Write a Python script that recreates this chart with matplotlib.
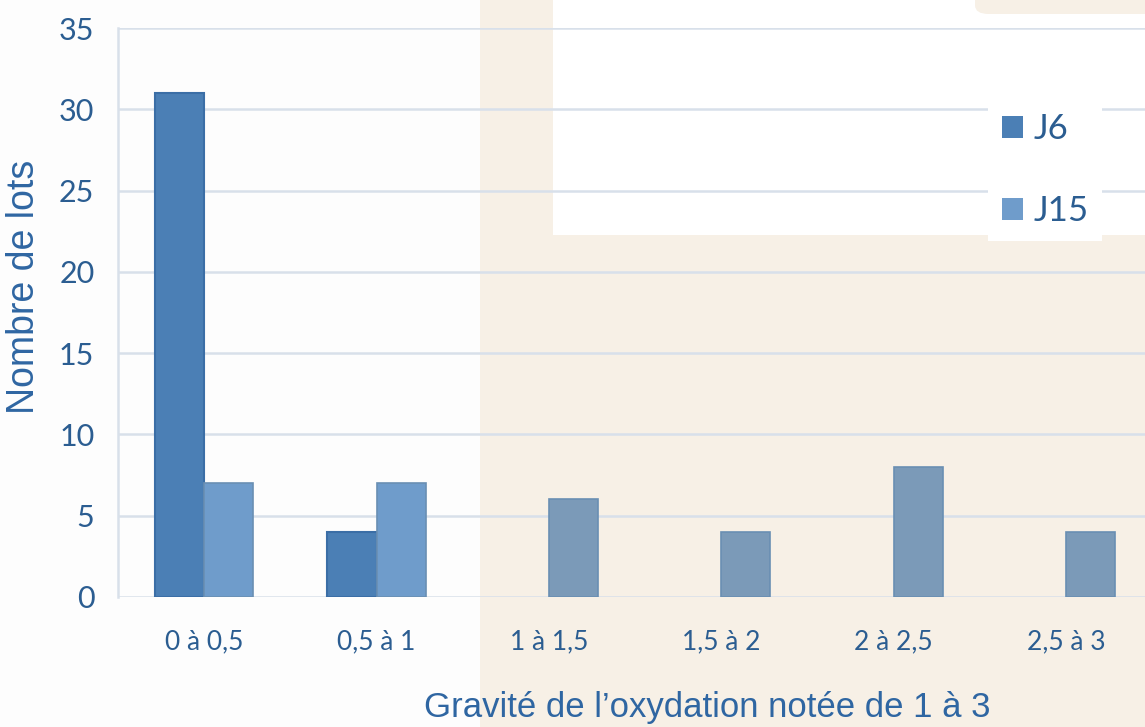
import numpy as np
import matplotlib
matplotlib.use("Agg")
import matplotlib.pyplot as plt
from matplotlib.patches import Rectangle, FancyBboxPatch

# data
categories = ["0 à 0,5", "0,5 à 1", "1 à 1,5", "1,5 à 2", "2 à 2,5", "2,5 à 3"]
j6 = [31, 4, 0, 0, 0, 0]
j15 = [7, 7, 6, 4, 8, 4]
yticks = [0, 5, 10, 15, 20, 25, 30, 35]

W, H = 1145, 727
fig = plt.figure(figsize=(W / 100, H / 100), dpi=100)
fig.patch.set_facecolor("#fdfdfd")

# background of the slide (beige panel + white box top right)
beige = "#f7f0e6"
fig.add_artist(Rectangle((480 / W, 0), 1 - 480 / W, 1, transform=fig.transFigure,
                         facecolor=beige, edgecolor="none", zorder=0))
fig.add_artist(Rectangle((553 / W, 1 - 235 / H), 1 - 553 / W, 235 / H, transform=fig.transFigure,
                         facecolor="white", edgecolor="none", zorder=0))
fig.add_artist(FancyBboxPatch((975 / W, 1 - 14 / H), 200 / W, 40 / H, transform=fig.transFigure,
                              boxstyle="round,pad=0,rounding_size=0.012",
                              facecolor=beige, edgecolor="none", zorder=0))

ax = fig.add_axes([118 / W, 1 - 597 / H, 1 - 118 / W, (597 - 28) / H])
ax.set_facecolor("none")

x = np.arange(len(categories))
w = 0.285
j6_col = "#4b7fb5"
j15_cols = ["#6f9ccb", "#6f9ccb", "#7b9ab8", "#7b9ab8", "#7b9ab8", "#7b9ab8"]

ax.bar(x - w / 2, j6, width=w, color=j6_col, edgecolor="#3b6ea6",
       linewidth=[1.5 if v else 0 for v in j6], label="J6", zorder=3)
ax.bar(x + w / 2, j15, width=w, color=j15_cols, edgecolor="#6a8fb3", linewidth=1.2,
       label="J15", zorder=3)

ax.set_xlim(-0.5, (W - 205) / 172.2)
ax.set_ylim(0, 35)
ax.set_yticks(yticks)
ax.grid(axis="y", color="#d8e0ea", linewidth=1.8, zorder=1)
ax.set_axisbelow(True)
for s in ["top", "right", "bottom"]:
    ax.spines[s].set_visible(False)
ax.spines["left"].set_color("#d8e0ea")
ax.spines["left"].set_linewidth(1.8)

txt = "#2b5d91"
ax.set_xticks(x)
ax.set_xticklabels(categories)
ax.tick_params(axis="both", length=0, labelcolor=txt)
ax.tick_params(axis="x", pad=23, labelsize=19)
ax.tick_params(axis="y", pad=17, labelsize=22)
for lab in ax.get_yticklabels() + ax.get_xticklabels():
    lab.set_family("Lato")

ax.set_ylabel("Nombre de lots", fontsize=27, color="#2f66a2", family="Liberation Sans")
ax.yaxis.set_label_coords((42 - 118) / 1027, (597 - 287) / 569)
ax.set_xlabel("Gravité de l\u2019oxydation notée de 1 à 3", fontsize=25, color="#2f66a2",
              family="Liberation Sans")
ax.xaxis.set_label_coords((707 - 118) / 1027, -(691 - 597) / 569)

leg = ax.legend(loc="center", bbox_to_anchor=(1045 / W, 1 - 170 / H),
                bbox_transform=fig.transFigure, frameon=True, facecolor="white",
                edgecolor="none", framealpha=1, fancybox=False,
                prop={"family": "Lato", "size": 25}, labelcolor=txt,
                handlelength=0.6, handleheight=0.6, handletextpad=0.3,
                labelspacing=1.45, borderpad=0.4)
for h in leg.legend_handles:
    h.set_edgecolor("none")
leg.legend_handles[1].set_facecolor("#6f9ccb")

fig.savefig("out.png", dpi=100, facecolor=fig.get_facecolor())
